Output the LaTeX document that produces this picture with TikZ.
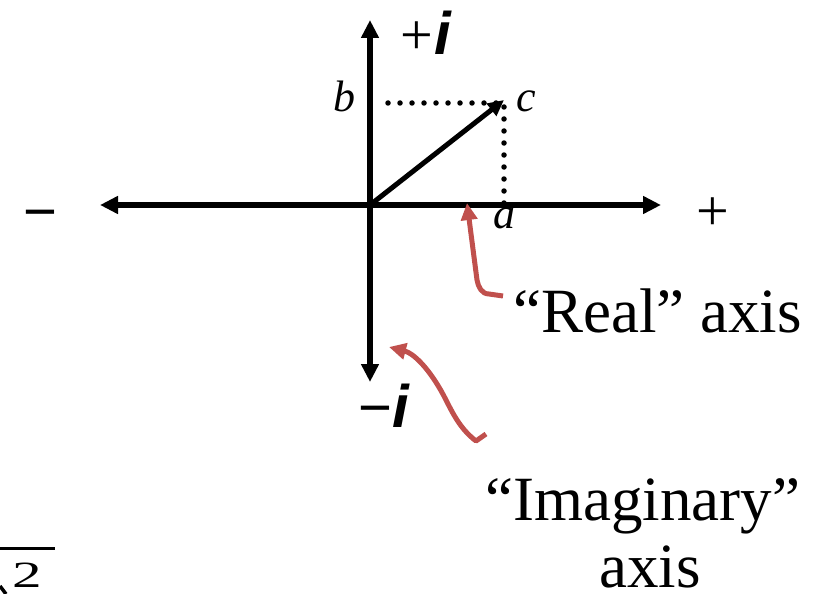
\documentclass[tikz,border=0pt]{standalone}
\usepackage{fontspec}
\setmainfont{Liberation Serif}
\newfontfamily\arialf{Liberation Sans}
\usetikzlibrary{arrows.meta}
\definecolor{redarrow}{RGB}{192,80,77}
\begin{document}
\begin{tikzpicture}[x=1pt,y=-1pt,
  axisline/.style={line width=5.5pt,{Triangle[length=18pt,width=17pt]}-{Triangle[length=18pt,width=17pt]}},
  vec/.style={line width=5pt,-{Triangle[length=16pt,width=15pt]}},
  redarr/.style={line width=5pt,color=redarrow,line join=round,-{Triangle[length=17pt,width=16pt]}},
  dotline/.style={line width=5.5pt,line cap=round,dash pattern=on 0pt off 12pt},
  lbl/.style={inner sep=0pt,anchor=base west},
  big/.style={font=\fontsize{63}{70}\selectfont},
  mid/.style={font=\fontsize{58}{64}\selectfont},
  small/.style={font=\fontsize{44}{50}\selectfont\itshape}
]
\useasboundingbox (0,0) rectangle (831,594);
% axes
\coordinate (O) at (370,205);
\coordinate (L) at (100,205);
\coordinate (R) at (661,205);
\coordinate (T) at (370,20);
\coordinate (B) at (370,382);
\coordinate (C) at (504,100);
\coordinate (Cb) at (504,103);
\coordinate (Bb) at (380,103);
\coordinate (A) at (504,203);
\draw[axisline] (L) -- (R);
\draw[axisline] (B) -- (T);
\draw[dotline] (A) -- (Cb) -- (Bb);
\draw[vec] (O) -- (C);
% labels
\node[lbl,small] (lb) at (333,112) {b};
\node[lbl,small] (lc) at (516,112) {c};
\node[lbl,small] (la) at (493,228) {a};
\node[lbl,mid] (pi) at (400,55) {+\kern2pt{\arialf\bfseries\itshape\fontsize{60}{66}\selectfont i}};
\node[lbl,mid] (mi) at (358,427) {{\arialf −}{\arialf\bfseries\itshape\fontsize{60}{66}\selectfont i}};
\node[lbl,mid] (minus) at (23,231) {{\arialf −}};
\node[lbl,mid] (plus) at (696,230) {+};
\node[lbl,big] (real) at (513,332) {“Real” axis};
\node[lbl,big] (imag) at (485,520) {“Imaginary”};
\node[inner sep=0pt,anchor=base,big] (imaxis) at (650,587) {axis};
% red arrows
\coordinate (r1s) at (503,296);
\coordinate (r1e) at (467,203);
\draw[redarr] (r1s) -- (489,294) to[out=180,in=-80] (477,280) -- (r1e);
\coordinate (r2s) at (486,434);
\coordinate (r2e) at (389,347);
\draw[redarr] (r2s) -- (476,441) .. controls (462,430) and (455,418) .. (446,400) .. controls (433,374) and (416,354) .. (r2e);
% partial radical bottom-left
\draw[line width=3pt] (0,548) -- (55,548);
\node[lbl] (two) at (12,587) {\scalebox{1.6}[1]{\fontsize{37}{40}\selectfont 2}};
\draw[line width=3.5pt] (0,586) -- (6,594);
\end{tikzpicture}
\end{document}
